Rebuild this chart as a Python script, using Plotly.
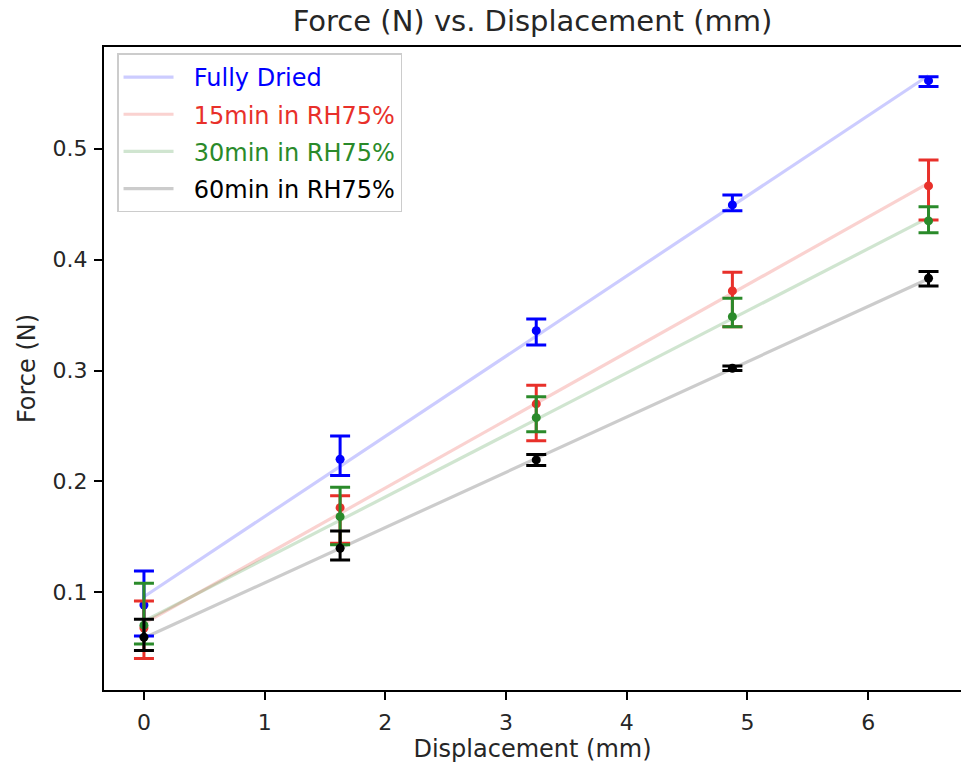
import numpy as np
import plotly.graph_objects as go

# Displacement positions (mm)
displacement = [0.0, 1.625, 3.25, 4.875, 6.5]

# Mean force (N) per condition
force_dried = [0.0887, 0.2200, 0.3359, 0.4492, 0.5612]
force_15min = [0.0680, 0.1764, 0.2699, 0.3717, 0.4663]
force_30min = [0.0705, 0.1683, 0.2575, 0.3485, 0.4348]
force_60min = [0.0596, 0.1398, 0.2194, 0.3020, 0.3831]

# Upper / lower error extents (N)
err_up_dried = [0.0307, 0.0210, 0.0105, 0.0090, 0.0036]
err_dn_dried = [0.0279, 0.0147, 0.0129, 0.0052, 0.0054]
err_up_15min = [0.0243, 0.0108, 0.0168, 0.0168, 0.0234]
err_dn_15min = [0.0276, 0.0321, 0.0331, 0.0322, 0.0306]
err_up_30min = [0.0378, 0.0265, 0.0189, 0.0166, 0.0128]
err_dn_30min = [0.0169, 0.0253, 0.0126, 0.0090, 0.0106]
err_up_60min = [0.0162, 0.0156, 0.0050, 0.0020, 0.0060]
err_dn_60min = [0.0120, 0.0105, 0.0050, 0.0021, 0.0069]

labels = ["Fully Dried", "15min in RH75%", "30min in RH75%", "60min in RH75%"]
colors = ["#0000ff", "#e8302a", "#2a8a2a", "#000000"]
line_colors = ["rgba(0,0,255,0.2)", "rgba(232,48,42,0.22)",
               "rgba(42,138,42,0.22)", "rgba(0,0,0,0.2)"]

series = [
    (force_dried, err_up_dried, err_dn_dried),
    (force_15min, err_up_15min, err_dn_15min),
    (force_30min, err_up_30min, err_dn_30min),
    (force_60min, err_up_60min, err_dn_60min),
]

FONT = "DejaVu Sans"
TEXT = "#262626"
fig = go.Figure()

x = np.array(displacement)
# Linear fit lines (these carry the legend)
for i, (y, up, dn) in enumerate(series):
    slope, icpt = np.polyfit(x, np.array(y), 1)
    fig.add_trace(go.Scatter(
        x=x, y=slope * x + icpt, mode="lines",
        line=dict(color=line_colors[i], width=3.2),
        name=f"<span style='color:{colors[i]}'>&nbsp;&nbsp;{labels[i]}</span>",
        legendgroup=f"g{i}", hoverinfo="skip",
    ))

# Mean values with error bars
for i, (y, up, dn) in enumerate(series):
    fig.add_trace(go.Scatter(
        x=displacement, y=y, mode="markers",
        marker=dict(color=colors[i], size=9),
        error_y=dict(type="data", symmetric=False, array=up, arrayminus=dn,
                     color=colors[i], thickness=3, width=10),
        showlegend=False,
    ))

fig.update_layout(
    width=961, height=768,
    margin=dict(l=104, r=0, t=47, b=78),
    paper_bgcolor="white", plot_bgcolor="white",
    font=dict(family=FONT, size=22, color=TEXT),
    title=dict(text="Force (N) vs. Displacement (mm)", x=0.5, xref="paper",
               xanchor="center", y=1 - 21 / 768, yref="container",
               yanchor="middle", font=dict(family=FONT, size=29, color=TEXT)),
    legend=dict(x=0.0152, y=0.99, xanchor="left", yanchor="top",
                bgcolor="rgba(255,255,255,0.85)", bordercolor="#cccccc",
                borderwidth=1.5, font=dict(family=FONT, size=24),
                tracegroupgap=3, traceorder="grouped", itemwidth=50),
    showlegend=True,
)

fig.update_xaxes(
    range=[-0.331, 6.769], tickmode="array", tickvals=[0, 1, 2, 3, 4, 5, 6],
    showgrid=False, zeroline=False, showline=True, linecolor="black",
    linewidth=2, mirror=True, ticks="outside", ticklen=8, tickwidth=2,
    tickcolor="black", ticklabelstandoff=4,
    tickfont=dict(family=FONT, size=22, color=TEXT),
    title=dict(text="Displacement (mm)", standoff=4,
               font=dict(family=FONT, size=24, color=TEXT)),
)
fig.update_yaxes(
    range=[0.0121, 0.5915], tickmode="array", tickvals=[0.1, 0.2, 0.3, 0.4, 0.5],
    showgrid=False, zeroline=False, showline=True, linecolor="black",
    linewidth=2, ticks="outside", ticklen=8, tickwidth=2, tickcolor="black",
    ticklabelstandoff=2,
    tickfont=dict(family=FONT, size=22, color=TEXT),
    title=dict(text="Force (N)", standoff=10,
               font=dict(family=FONT, size=24, color=TEXT)),
)

fig.write_html("out.html")
